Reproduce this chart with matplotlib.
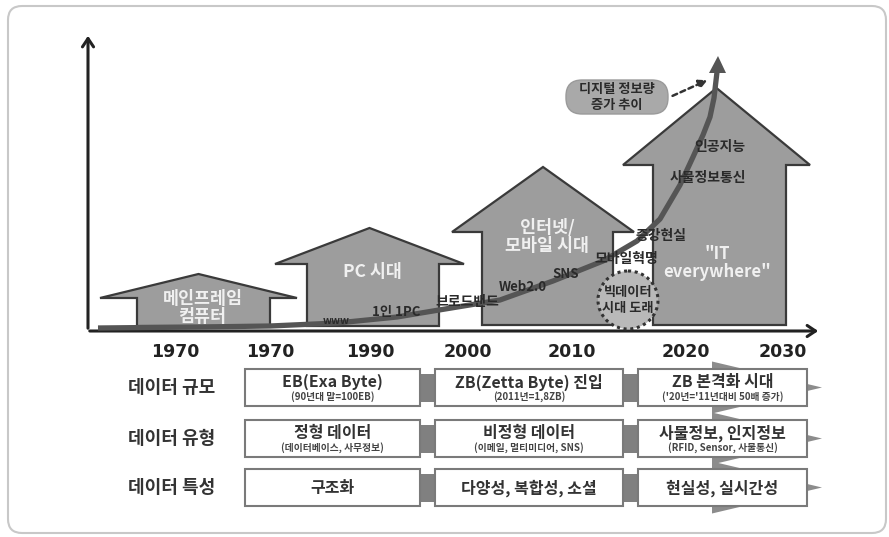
import matplotlib
matplotlib.use("Agg")
from matplotlib import pyplot as plt
from matplotlib.patches import Polygon, Rectangle, Ellipse, FancyBboxPatch

plt.rcParams['font.family'] = ['Noto Sans CJK KR', 'DejaVu Sans']

# 연도 축
years = ['1970', '1970', '1990', '2000', '2010', '2020', '2030']
year_x = [175, 270, 370, 468, 572, 686, 783]

# 시대별 집 (라벨)
era_labels = ['메인프레임\n컴퓨터', 'PC 시대', '인터넷/\n모바일 시대', '"IT\neverywhere"']

# 디지털 정보량 증가 곡선 (그림에서 읽은 점)
curve_x = [98, 200, 270, 337, 397, 433, 500, 553, 603, 637, 660, 680, 693, 703, 710, 714, 717]
curve_y = [328, 327, 326, 323, 317, 311, 300, 281, 261, 241, 219, 185, 157, 135, 117, 98, 72]

# 곡선 위 이정표
milestones = ['www', '1인 1PC', '브로드밴드', 'Web2.0', 'SNS', '모바일혁명', '증강현실', '사물정보통신', '인공지능']

# 하단 표
row_labels = ['데이터 규모', '데이터 유형', '데이터 특성']
scale_main = ['EB(Exa Byte)', 'ZB(Zetta Byte) 진입', 'ZB 본격화 시대']
scale_sub = ['(90년대 말=100EB)', '(2011년=1,8ZB)', "('20년='11년대비 50배 증가)"]
type_main = ['정형 데이터', '비정형 데이터', '사물정보, 인지정보']
type_sub = ['(데이터베이스, 사무정보)', '(이메일, 멀티미디어, SNS)', '(RFID, Sensor, 사물통신)']
trait_main = ['구조화', '다양성, 복합성, 소셜', '현실성, 실시간성']

fig = plt.figure(figsize=(8.89, 5.37), dpi=100)
ax = fig.add_axes([0, 0, 1, 1])
ax.set_xlim(0, 889)
ax.set_ylim(537, 0)
ax.axis('off')

# 바깥 테두리
ax.add_patch(FancyBboxPatch((8, 6), 878, 527, boxstyle='round,pad=0,rounding_size=14',
                            fc='white', ec='#c8c8c8', lw=1.5, zorder=0))

# 집 모양: (처마 왼쪽, 처마 오른쪽, 처마 y, 꼭대기 y, 몸통 왼쪽, 몸통 오른쪽, 바닥 y)
houses = [(100, 297, 298, 274, 137, 270, 326),
          (275, 464, 264, 228, 307, 439, 326),
          (452, 634, 232, 167, 482, 613, 325),
          (623, 810, 165, 88, 653, 786, 325)]
label_pos = [(203, 308), (372, 272), (547, 237), (717, 263)]
for i, (el, er, ey, py, bl, br, by) in enumerate(houses):
    pts = [(el, ey), ((el + er) / 2, py), (er, ey), (br, ey), (br, by), (bl, by), (bl, ey)]
    ax.add_patch(Polygon(pts, closed=True, fc='#9d9d9d', ec='#3a3a3a', lw=1.6, zorder=2))
    fs = 12.5 if i < 3 else 12
    ax.text(label_pos[i][0], label_pos[i][1], era_labels[i], color='#f0f0f0', fontsize=fs,
            fontweight='bold', ha='center', va='center', linespacing=1.05, zorder=6)

# 축
ax.annotate('', xy=(88, 33), xytext=(88, 331),
            arrowprops=dict(arrowstyle='->,head_length=0.6,head_width=0.4', lw=2.2, color='#222'), zorder=3)
ax.annotate('', xy=(821, 331), xytext=(87, 331),
            arrowprops=dict(arrowstyle='->,head_length=0.6,head_width=0.4', lw=2.2, color='#222'), zorder=3)

for x, y in zip(year_x, years):
    ax.text(x, 352, y, fontsize=12.5, fontweight='bold', color='#222', ha='center', va='center',
            family='DejaVu Sans')

# 빅데이터 원
ax.add_patch(Ellipse((628, 300), 60, 58, fc='#b9b9b9', ec='#333', lw=2.2, ls=(0, (1, 1.2)), zorder=4))
ax.text(628, 300, '빅데이터\n시대 도래', fontsize=9.5, fontweight='bold', color='#2a2a2a',
        ha='center', va='center', linespacing=1.1, zorder=7)

# 증가 곡선
ax.plot(curve_x, curve_y, color='#555', lw=3.8, solid_capstyle='butt', solid_joinstyle='round', zorder=5)
ax.add_patch(Polygon([(curve_x[-1] - 8, curve_y[-1] + 1), (curve_x[-1] + 1, curve_y[-1] - 16),
                      (curve_x[-1] + 9, curve_y[-1] + 1)], closed=True, fc='#555', ec='none', zorder=5))

ms_pos = [(336, 321), (396, 312), (467, 302), (523, 287), (566, 274), (626, 259), (661, 236), (708, 178), (720, 147)]
ms_fs = [7.5, 9.5, 10, 9.5, 9.5, 10, 10, 10, 10]
for (x, y), t, fs in zip(ms_pos, milestones, ms_fs):
    ax.text(x, y, t, fontsize=fs, fontweight='bold', color='#2a2a2a', ha='center', va='center', zorder=6)

# 말풍선
ax.add_patch(FancyBboxPatch((566, 80), 102, 34, boxstyle='round,pad=0,rounding_size=16',
                            fc='#a9a9a9', ec='#9a9a9a', lw=1, zorder=4))
ax.text(617, 97, '디지털 정보량\n증가 추이', fontsize=9.5, fontweight='bold', color='#2a2a2a',
        ha='center', va='center', linespacing=1.1, zorder=6)
ax.annotate('', xy=(710, 79), xytext=(670, 97),
            arrowprops=dict(arrowstyle='-|>,head_length=0.5,head_width=0.25', lw=1.8, ls=(0, (2, 1.5)),
                            color='#333'), zorder=6)

# 하단 표
row_c = [387.5, 438.5, 487.5]
box_x = [(245, 420), (435, 623), (638, 807)]
box_h = 37

for c in row_c:
    ax.add_patch(Polygon([(712, c - 26), (822, c), (712, c + 26)], closed=True, fc='#8c8c8c', ec='none', zorder=1))

rows = [(scale_main, scale_sub), (type_main, type_sub), (trait_main, None)]
for r, (c, lab) in enumerate(zip(row_c, row_labels)):
    ax.text(172, c, lab, fontsize=13, fontweight='bold', color='#333', ha='center', va='center')
    for k in range(2):
        ax.add_patch(Rectangle((box_x[k][1], c - 14), box_x[k + 1][0] - box_x[k][1], 28,
                               fc='#808080', ec='none', zorder=2))
    mains, subs = rows[r]
    for k, (x0, x1) in enumerate(box_x):
        ax.add_patch(Rectangle((x0, c - box_h / 2), x1 - x0, box_h, fc='white', ec='#7a7a7a', lw=1.5, zorder=3))
        cx = (x0 + x1) / 2
        if subs is None:
            ax.text(cx, c + 1, mains[k], fontsize=11.5, fontweight='bold', color='#333',
                    ha='center', va='center', zorder=4)
        else:
            ax.text(cx, c - 5.5, mains[k], fontsize=11.5, fontweight='bold', color='#333',
                    ha='center', va='center', zorder=4)
            ax.text(cx, c + 9.5, subs[k], fontsize=7, fontweight='bold', color='#444',
                    ha='center', va='center', zorder=4)

fig.savefig('out.png', dpi=100)
